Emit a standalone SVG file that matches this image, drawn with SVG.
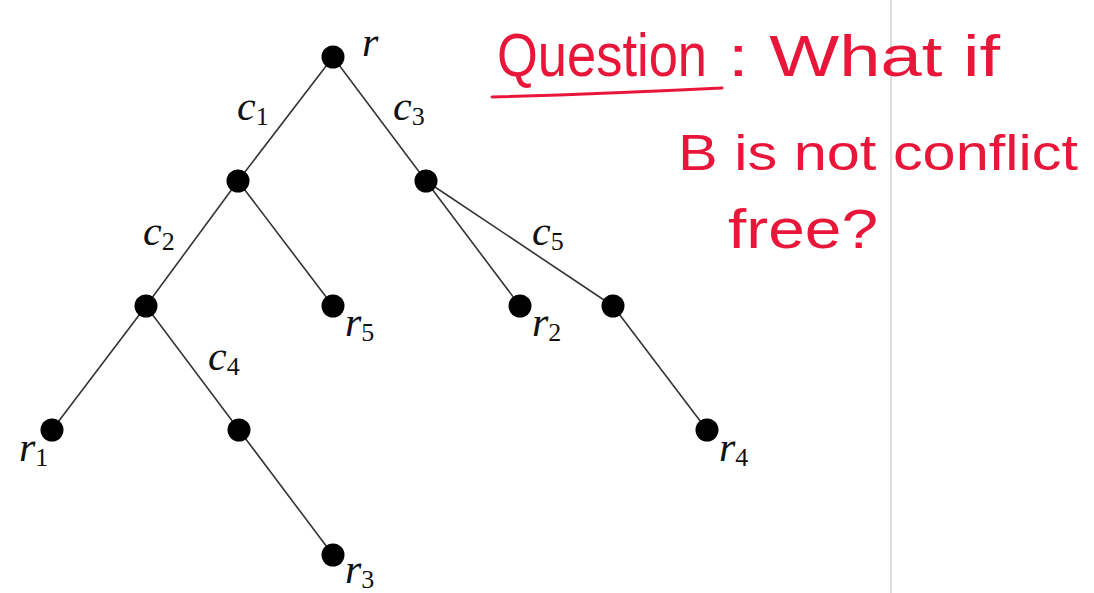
<svg xmlns="http://www.w3.org/2000/svg" width="1094" height="593" viewBox="0 0 1094 593">
<style>
.e{stroke:#333;stroke-width:1.6;fill:none}
.n{fill:#000}
.l{font-family:"Liberation Serif",serif;font-style:italic;font-size:42px;fill:#111}
.s{font-style:normal;font-size:26px}
.h{font-family:"Liberation Sans",sans-serif;fill:#e8173a}
</style>
<rect width="1094" height="593" fill="#fff"/>
<line x1="891" y1="0" x2="891" y2="593" stroke="#d0d0d0" stroke-width="1.5"/>
<g id="connectors">
<line class="e" x1="333" y1="57" x2="238" y2="181"/>
<line class="e" x1="333" y1="57" x2="426" y2="181"/>
<line class="e" x1="238" y1="181" x2="146" y2="306"/>
<line class="e" x1="238" y1="181" x2="333" y2="306"/>
<line class="e" x1="146" y1="306" x2="52" y2="430"/>
<line class="e" x1="146" y1="306" x2="239" y2="430"/>
<line class="e" x1="239" y1="430" x2="333" y2="555"/>
<line class="e" x1="426" y1="181" x2="520" y2="306"/>
<line class="e" x1="426" y1="181" x2="613" y2="306"/>
<line class="e" x1="613" y1="306" x2="707" y2="430"/>
</g>
<g id="edge-labels">
<text class="l" x="237" y="120">c<tspan class="s" dy="5">1</tspan></text>
<text class="l" x="393" y="120">c<tspan class="s" dy="5">3</tspan></text>
<text class="l" x="143" y="245">c<tspan class="s" dy="5">2</tspan></text>
<text class="l" x="208" y="370">c<tspan class="s" dy="5">4</tspan></text>
<text class="l" x="532" y="245">c<tspan class="s" dy="5">5</tspan></text>
</g>
<g id="node-r"><circle class="n" cx="333" cy="57" r="11.5"/><text class="l" x="362" y="56">r</text></g>
<g id="node-a"><circle class="n" cx="238" cy="181" r="11.5"/></g>
<g id="node-b"><circle class="n" cx="426" cy="181" r="11.5"/></g>
<g id="node-c"><circle class="n" cx="146" cy="306" r="11.5"/></g>
<g id="node-r5"><circle class="n" cx="333" cy="306" r="11.5"/><text class="l" x="345" y="336">r<tspan class="s" dy="5">5</tspan></text></g>
<g id="node-r2"><circle class="n" cx="520" cy="306" r="11.5"/><text class="l" x="532" y="336">r<tspan class="s" dy="5">2</tspan></text></g>
<g id="node-d"><circle class="n" cx="613" cy="306" r="11.5"/></g>
<g id="node-r1"><circle class="n" cx="52" cy="430" r="11.5"/><text class="l" x="19" y="461">r<tspan class="s" dy="5">1</tspan></text></g>
<g id="node-e"><circle class="n" cx="239" cy="430" r="11.5"/></g>
<g id="node-r4"><circle class="n" cx="707" cy="430" r="11.5"/><text class="l" x="719" y="461">r<tspan class="s" dy="5">4</tspan></text></g>
<g id="node-r3"><circle class="n" cx="333" cy="555" r="11.5"/><text class="l" x="345" y="583">r<tspan class="s" dy="5">3</tspan></text></g>
<g id="note">
<text class="h" x="497" y="76" font-size="62" textLength="210" lengthAdjust="spacingAndGlyphs">Question</text>
<path d="M492 97 Q600 94 722 88" stroke="#e8173a" stroke-width="3" fill="none" stroke-linecap="round"/>
<text class="h" x="728" y="76" font-size="58" textLength="272" lengthAdjust="spacingAndGlyphs">: What if</text>
<text class="h" x="678" y="170" font-size="50" textLength="400" lengthAdjust="spacingAndGlyphs">B is not conflict</text>
<text class="h" x="728" y="248" font-size="56" textLength="150" lengthAdjust="spacingAndGlyphs">free?</text>
</g>
</svg>
